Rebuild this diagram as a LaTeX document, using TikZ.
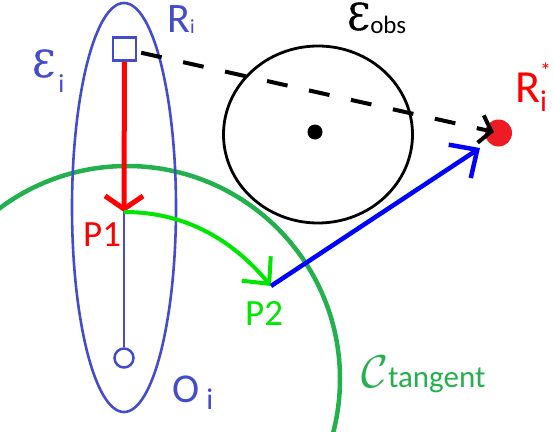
\documentclass[tikz,border=0pt]{standalone}
\usepackage{fontspec}
\setmainfont{Carlito}
\newfontfamily\epsfont[FakeBold=1.2]{DejaVu Serif}
\usetikzlibrary{arrows.meta}
\definecolor{ellblue}{RGB}{66,76,204}
\definecolor{pgreen}{RGB}{34,177,76}
\definecolor{lime}{RGB}{0,230,0}
\definecolor{dotred}{RGB}{237,28,36}
\newcommand{\fs}[1]{\fontsize{#1}{#1}\selectfont}
\tikzset{
  lbl/.style={inner sep=0pt, anchor=base west},
}
\begin{document}
\begin{tikzpicture}[x=1pt,y=-1pt]
\useasboundingbox (0,0) rectangle (554,431);
% tangent circle
\begin{scope}
\clip (0,0) rectangle (554,431);
\draw[pgreen, line width=4.5pt] (127,379) circle[radius=213];
\end{scope}
% obstacle
\draw[black, line width=2.8pt] (318,134.5) ellipse[x radius=94.5, y radius=88.5];
\node[circle, fill=black, minimum size=15pt, inner sep=0pt] (obs) at (315,132) {};
% robot ellipse
\draw[ellblue, line width=2.6pt] (124,207.5) ellipse[x radius=52, y radius=204.5];
\node[draw=ellblue, line width=2.5pt, fill=white, minimum size=23pt, inner sep=0pt] (R) at (124.5,49) {};
\node[draw=ellblue, line width=2.5pt, fill=white, circle, minimum size=19pt, inner sep=0pt] (O) at (124,358) {};
\coordinate (P1) at (124,212);
\coordinate (P2) at (271,286);
\coordinate (Bt) at (480,148);
\node[circle, fill=dotred, minimum size=27pt, inner sep=0pt] (Rs) at (498.5,133) {};
% connectors
\draw[ellblue, line width=2.6pt] (P1) -- (O);
\draw[red, line width=5pt, -{Straight Barb[length=13pt,width=38pt]}] (R) -- (P1);
\draw[lime, line width=4pt, -{Straight Barb[length=20pt,width=38pt]}] (P1) .. controls (194,212) and (239,248) .. (P2);
\draw[blue, line width=4.5pt, -{Straight Barb[length=21pt,width=40pt]}] (P2) -- (Bt);
\draw[black, line width=4pt, dash pattern=on 21pt off 22pt, dash phase=-4pt, shorten >=-9pt,
  -{Straight Barb[length=11pt,width=28pt]}] (R) -- (Rs);
% labels
\node[lbl, text=ellblue] (Ri) at (167,32) {\fs{42}R\fs{20}\raisebox{-1pt}{i}};
\node[lbl, text=ellblue] (Ei) at (32,77) {\epsfont\fs{37}Ɛ\hspace{3pt}\rmfamily\fs{26}\raisebox{-15pt}{i}};
\node[lbl, text=black] (Eo) at (347,30) {\epsfont\fs{37}Ɛ\rmfamily\fs{25}\raisebox{-3pt}{obs}};
\node[lbl, text=red] (Rst) at (515,102) {\fs{46}R\rlap{\fs{22}\raisebox{24pt}{*}}\fs{30}\raisebox{-9pt}{i}};
\node[lbl, text=red] (P1l) at (83,246) {\fs{37}P1};
\node[lbl, text=lime] (P2l) at (245,325) {\fs{37}P2};
\node[lbl, text=ellblue] (Ol) at (172,402) {\fs{41}O\hspace{7pt}\fs{30}\raisebox{-7pt}{i}};
\node[lbl, text=pgreen] (Ct) at (361,387) {\scalebox{4.6}{$\mathcal{C}$}\fs{31}tangent};
\end{tikzpicture}
\end{document}
